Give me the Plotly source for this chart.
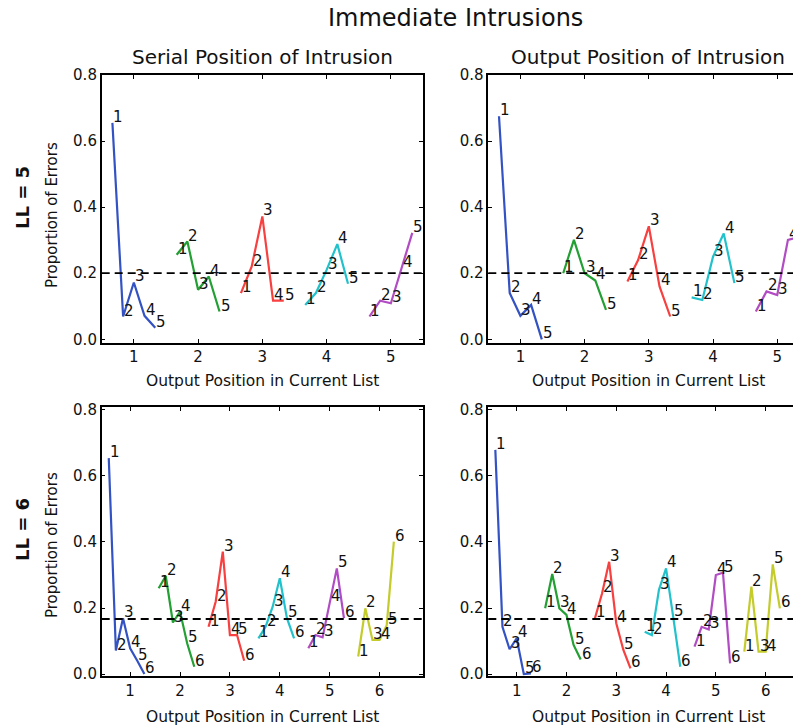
import plotly.graph_objects as go
import math

# ---------------- data ----------------
LL5_serial = [
    [0.655, 0.069, 0.172, 0.071, 0.035],
    [0.256, 0.296, 0.150, 0.190, 0.084],
    [0.140, 0.220, 0.372, 0.117, 0.117],
    [0.104, 0.140, 0.210, 0.288, 0.168],
    [0.069, 0.117, 0.109, 0.215, 0.322],
]
LL5_output = [
    [0.675, 0.140, 0.071, 0.104, 0.000],
    [0.200, 0.301, 0.200, 0.178, 0.089],
    [0.175, 0.240, 0.342, 0.160, 0.069],
    [0.127, 0.119, 0.250, 0.320, 0.170],
    [0.084, 0.145, 0.134, 0.301, 0.309],
]
LL6_serial = [
    [0.654, 0.071, 0.169, 0.078, 0.040, 0.000],
    [0.260, 0.297, 0.156, 0.189, 0.093, 0.022],
    [0.143, 0.219, 0.371, 0.118, 0.118, 0.040],
    [0.108, 0.143, 0.204, 0.290, 0.169, 0.108],
    [0.078, 0.118, 0.111, 0.219, 0.320, 0.169],
    [0.053, 0.199, 0.103, 0.103, 0.148, 0.401],
]
LL6_output = [
    [0.679, 0.143, 0.075, 0.108, 0.000, 0.002],
    [0.199, 0.303, 0.199, 0.179, 0.088, 0.044],
    [0.169, 0.244, 0.340, 0.154, 0.073, 0.017],
    [0.128, 0.118, 0.255, 0.320, 0.174, 0.022],
    [0.083, 0.143, 0.135, 0.300, 0.307, 0.032],
    [0.068, 0.265, 0.068, 0.068, 0.332, 0.199],
]
y_ticks = [0.0, 0.2, 0.4, 0.6, 0.8]
main_title = "Immediate Intrusions"
col_titles = ["Serial Position of Intrusion", "Output Position of Intrusion"]
row_titles = ["LL = 5", "LL = 6"]
x_title = "Output Position in Current List"
y_title = "Proportion of Errors"

colors = ["#3352c4", "#23a033", "#f84040", "#22c2cc", "#b24cc4", "#c4cc2c"]

# ---------------- layout geometry ----------------
OFF = 8  # page body margin
W, H = 801 - OFF, 727 - OFF
FONT = "DejaVu Sans"
px = lambda v: (v - OFF) / W
py = lambda v: 1 - (v - OFF) / H

panels = [
    # data, LL, axis suffix, xdomain, ydomain, xrange, yrange, right_cut
    (LL5_serial, 5, "", [px(101.7), px(423)], [py(342.7), py(75)], [0.5, 5.5], [-0.0103, 0.8], False),
    (LL5_output, 5, "2", [px(488.3), 1.0], [py(342.7), py(75)], [0.5, 5.37], [-0.0103, 0.8], True),
    (LL6_serial, 6, "3", [px(101.7), px(423)], [py(676), py(407.3)], [0.43, 6.87], [-0.006, 0.808], False),
    (LL6_output, 6, "4", [px(488.3), 1.0], [py(676), py(407.3)], [0.43, 6.71], [-0.006, 0.808], True),
]

fig = go.Figure()
annotations = []
shapes = []
layout_axes = {}

for data, LL, s, xd, yd, xr, yr, cut in panels:
    xa, ya = "x" + s, "y" + s
    center = math.ceil((LL + 1) / 2)
    for gi, vals in enumerate(data):
        pos = gi + 1
        xs = [pos + (k - center) / (LL + 1) for k in range(1, LL + 1)]
        fig.add_trace(go.Scatter(
            x=xs, y=vals, mode="lines", xaxis=xa, yaxis=ya,
            line=dict(color=colors[gi], width=2.2), showlegend=False,
            hoverinfo="skip"))
        for k, (xv, yv) in enumerate(zip(xs, vals), start=1):
            annotations.append(dict(
                x=xv, y=yv, xref=xa, yref=ya, text=str(k), showarrow=False,
                xanchor="left", yanchor="bottom", xshift=-1, yshift=-5,
                font=dict(family=FONT, size=15, color="#111")))
    shapes.append(dict(type="line", xref=xa + " domain", yref=ya,
                       x0=0, x1=1, y0=1 / LL, y1=1 / LL,
                       line=dict(color="black", width=1.8, dash="8px,5px")))
    axis_common = dict(showline=True, linecolor="black", linewidth=1.5,
                       ticks="inside", ticklen=4, tickwidth=1, tickcolor="black",
                       showgrid=False, zeroline=False, automargin=False,
                       tickfont=dict(family=FONT, size=15, color="#111"))
    layout_axes["xaxis" + s] = dict(
        domain=xd, range=xr, anchor=ya, tickmode="array",
        tickvals=list(range(1, LL + 1)), mirror="ticks", **axis_common)
    layout_axes["yaxis" + s] = dict(
        domain=yd, range=yr, anchor=xa, tickmode="array",
        tickvals=y_ticks, tickformat=".1f",
        mirror=False if cut else "ticks", **axis_common)

# text labels
annotations.append(dict(x=px(455), y=py(18), xref="paper", yref="paper",
                        text=main_title, showarrow=False, xanchor="center", yanchor="middle",
                        font=dict(family=FONT, size=24, color="#111")))
for cx, t in zip([262, 648], col_titles):
    annotations.append(dict(x=px(cx), y=py(57), xref="paper", yref="paper", text=t,
                            showarrow=False, xanchor="center", yanchor="middle",
                            font=dict(family=FONT, size=20, color="#111")))
    for yy in [381, 717]:
        annotations.append(dict(x=px(cx), y=py(yy), xref="paper", yref="paper", text=x_title,
                                showarrow=False, xanchor="center", yanchor="middle",
                                font=dict(family=FONT, size=15.5, color="#111")))
for yy, t in zip([198, 530], row_titles):
    annotations.append(dict(x=px(22), y=py(yy), xref="paper", yref="paper", text="<b>" + t + "</b>",
                            showarrow=False, xanchor="center", yanchor="middle", textangle=-90,
                            font=dict(family=FONT, size=18, color="#111")))
for yy in [215, 545]:
    annotations.append(dict(x=px(52), y=py(yy), xref="paper", yref="paper", text=y_title,
                            showarrow=False, xanchor="center", yanchor="middle", textangle=-90,
                            font=dict(family=FONT, size=15, color="#111")))

fig.update_layout(
    width=W, height=H, margin=dict(l=0, r=0, t=0, b=0, autoexpand=False),
    paper_bgcolor="white", plot_bgcolor="white",
    annotations=annotations, shapes=shapes, showlegend=False,
    **layout_axes)

fig.write_html("out.html")
